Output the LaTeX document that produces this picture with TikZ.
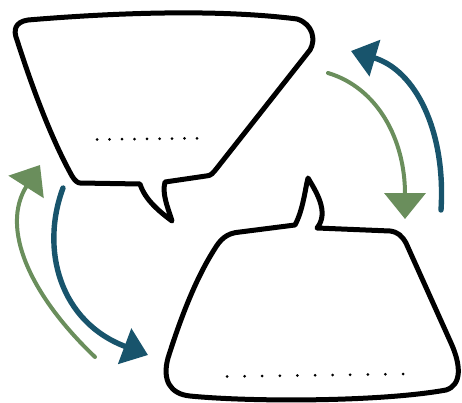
\documentclass[tikz,border=0pt]{standalone}
\usepackage{xcolor}
\usepackage{tikz}
\usetikzlibrary{arrows.meta}
\definecolor{arrgreen}{RGB}{106,142,92}
\definecolor{arrblue}{RGB}{24,84,108}
\tikzset{
  bub/.style={draw=black,fill=white,line width=5pt,line join=round,line cap=round},
  arrg/.style={draw=arrgreen,line width=4pt,line cap=round,
               -{Triangle[length=26pt,width=41pt]},arrgreen},
  arrb/.style={draw=arrblue,line width=5.4pt,line cap=round,
               -{Triangle[length=25pt,width=37pt]},arrblue},
  dotm/.style={fill=black,circle,inner sep=0pt,minimum size=3pt},
}
\begin{document}
\begin{tikzpicture}[x=1pt,y=-1pt]
  \useasboundingbox (0,0) rectangle (462,403);

  % --- bulle de sus -------------------------------------------------------
  \draw[bub] (80,183) -- (140,184)
    .. controls (145,200) and (160,212) .. (172,221)
    .. controls (167,205) and (162,194) .. (165,182)
    -- (206,176)
    .. controls (211,176) and (213,173) .. (217,168)
    -- (310,50)
    .. controls (316,40) and (313,24) .. (297,19)
    .. controls (210,8) and (100,14) .. (28,20)
    .. controls (15,22) and (13,30) .. (17,40)
    .. controls (33,90) and (52,140) .. (72,176)
    .. controls (75,181) and (78,183) .. (80,183) -- cycle;
  \foreach \i in {0,...,8}
    \node[dotm] (pa\i) at (97+12.5*\i,139.5-0.15*\i) {};

  % --- bulle de jos -------------------------------------------------------
  \draw[bub] (295,225)
    .. controls (303,210) and (305,190) .. (308,178)
    .. controls (315,190) and (330,212) .. (317,228)
    -- (390,231)
    .. controls (398,232) and (402,236) .. (406,243)
    -- (451,343)
    .. controls (461,365) and (462,385) .. (446,390)
    .. controls (380,402) and (250,402) .. (190,396)
    .. controls (170,394) and (162,380) .. (168,358)
    .. controls (180,320) and (195,280) .. (214,250)
    .. controls (220,240) and (226,233) .. (240,232)
    -- cycle;
  \foreach \i in {0,...,10}
    \node[dotm] (pb\i) at (227+17.6*\i,376.5-0.25*\i) {};

  % --- sageti dreapta -----------------------------------------------------
  \coordinate (rbs) at (441,210);
  \coordinate (rbe) at (351,51);
  \coordinate (rgs) at (328,73);
  \coordinate (rge) at (405,219);
  \draw[arrb] (rbs) .. controls (446,130) and (415,70) .. (rbe);
  \draw[arrg] (rgs) .. controls (378,88) and (405,140) .. (rge);

  % --- sageti stanga ------------------------------------------------------
  \coordinate (lgs) at (95,357);
  \coordinate (lge) at (40,165);
  \coordinate (lbs) at (63,188);
  \coordinate (lbe) at (148,355);
  \draw[arrg] (lgs) .. controls (30,295) and (0,228) .. (lge);
  \draw[arrb] (lbs) .. controls (40,250) and (60,322) .. (lbe);

\end{tikzpicture}
\end{document}
